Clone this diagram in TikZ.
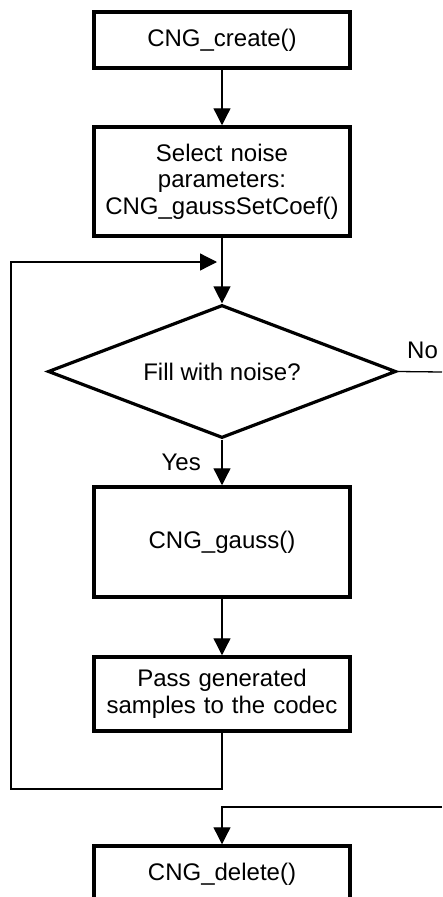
\documentclass[tikz,border=0pt]{standalone}
\usepackage{fontspec}
\setmainfont{Liberation Sans}
\usetikzlibrary{shapes.geometric,arrows.meta}
\begin{document}
\begin{tikzpicture}[x=1pt,y=-1pt,
  every node/.style={font=\fontsize{24}{26.5}\selectfont},
  procbox/.style={draw,line width=3.5pt,rectangle,minimum width=256pt,inner sep=0pt,align=center,text width=250pt},
  decision/.style={draw,line width=3.2pt,diamond,minimum width=348pt,minimum height=133pt,inner sep=0pt,aspect=2.6},
  conn/.style={draw,line width=1.3pt},
  arr/.style={conn,-{Triangle[length=17pt,width=17pt]}},
  lbl/.style={inner sep=0pt}
]
\clip (0,0) rectangle (442,897);
\fill[white] (0,0) rectangle (442,897);
\node[procbox,minimum height=56pt] (b1) at (222,40) {CNG\_create()};
\node[procbox,minimum height=109pt] (b2) at (222,181.5) {Select noise\\parameters:\\CNG\_gaussSetCoef()};
\coordinate (m) at (222,262);
\node[decision] (d) at (222,371.5) {Fill with noise?};
\node[procbox,minimum height=110pt] (b3) at (222,542) {CNG\_gauss()};
\node[procbox,minimum height=74pt] (b4) at (222,694) {Pass generated\\samples to the codec};
\node[procbox,minimum height=56pt] (b5) at (222,874) {CNG\_delete()};
\coordinate (lb) at (222,789);
\coordinate (ll) at (11,789);
\coordinate (lt) at (11,262);
\coordinate (nr) at (442,372);
\coordinate (nr2) at (442,807);
\coordinate (nd) at (222,807);
\draw[arr] (b1.south) -- (b2.north);
\draw[arr] (b2.south) -- (m) -- (d.north);
\draw[arr] (d.south) -- (b3.north);
\draw[arr] (b3.south) -- (b4.north);
\draw[arr,shorten >=5pt] (b4.south) -- (lb) -- (ll) -- (lt) -- (m);
\draw[conn] (d.east) -- (nr);
\draw[arr] (nr2) -- (nd) -- (b5.north);
\node[lbl,anchor=base east] (yes) at (201,470) {Yes};
\node[lbl,anchor=base west] (no) at (407,358) {No};
\end{tikzpicture}
\end{document}
